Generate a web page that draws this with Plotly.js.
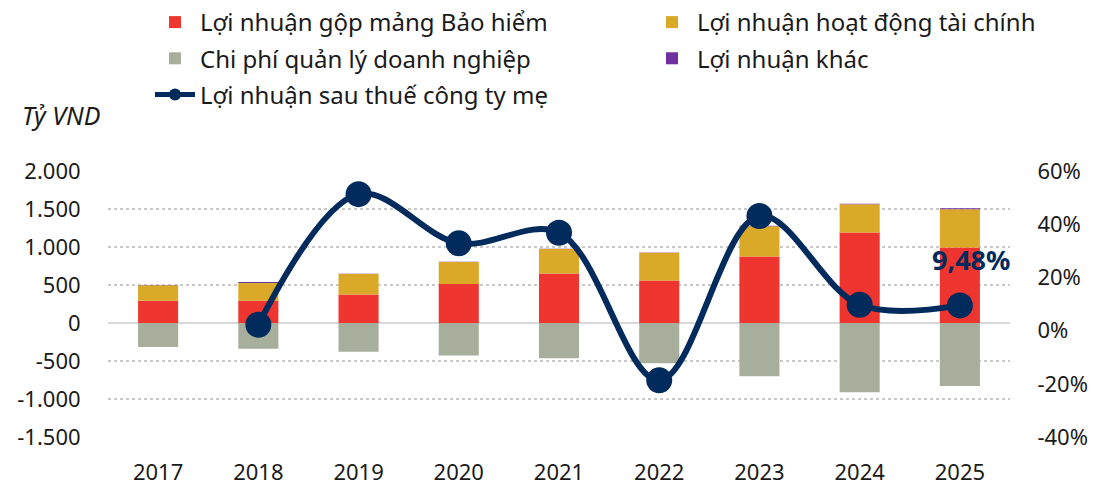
<!DOCTYPE html>
<html>
<head>
<meta charset="utf-8">
<script src="https://cdn.plot.ly/plotly-3.0.1.min.js"></script>
<style>html,body{margin:0;padding:0;background:#fff}#chart{width:1094px;height:486px}</style>
</head>
<body>
<div id="chart"></div>
<script>
const years = ['2017','2018','2019','2020','2021','2022','2023','2024','2025'];
const insuranceGross = [293, 293, 376, 512, 652, 560, 875, 1191, 994];
const financialProfit = [205, 234, 269, 289, 321, 363, 399, 371, 502];
const otherProfit = [2, 12, 3, 5, 3, 5, 5, 6, 15];
const adminExpense = [-315, -338, -377, -426, -465, -531, -702, -912, -828];
const npatGrowth = [null, 2.2, 51.3, 32.8, 36.8, -18.7, 43.1, 9.7, 9.48];
const leftTickVals = [-1500, -1000, -500, 0, 500, 1000, 1500, 2000];
const leftTickText = ['-1.500', '-1.000', '-500', '0', '500', '1.000', '1.500', '2.000'];
const rightTickVals = [-40, -20, 0, 20, 40, 60];
const rightTickText = ['-40%', '-20%', '0%', '20%', '40%', '60%'];
const seriesNames = ['Lợi nhuận gộp mảng Bảo hiểm', 'Lợi nhuận hoạt động tài chính', 'Lợi nhuận khác', 'Chi phí quản lý doanh nghiệp', 'Lợi nhuận sau thuế công ty mẹ'];

const FONT = 'Noto Sans, Open Sans, sans-serif';
const barW = 0.4;

const traces = [
  {type:'bar', x:years, y:insuranceGross, name:seriesNames[0], width:barW,
   marker:{color:'#EE3530', line:{width:0}}, legend:'legend', legendgroup:'a', hoverinfo:'skip'},
  {type:'bar', x:years, y:financialProfit, name:seriesNames[1], width:barW,
   marker:{color:'#DBA928', line:{width:0}}, legend:'legend2', legendgroup:'b', hoverinfo:'skip'},
  {type:'bar', x:years, y:otherProfit, name:seriesNames[2], width:barW,
   marker:{color:'#7030A0', line:{width:0}}, legend:'legend2', legendgroup:'c', hoverinfo:'skip'},
  {type:'bar', x:years, y:adminExpense, name:seriesNames[3], width:barW,
   marker:{color:'#A8AE9C', line:{width:0}}, legend:'legend', legendgroup:'d', hoverinfo:'skip'},
  {type:'scatter', mode:'lines+markers', x:years, y:npatGrowth, yaxis:'y2', name:seriesNames[4],
   line:{color:'#002B5C', width:6, shape:'spline', smoothing:1}, marker:{color:'#002B5C', size:26},
   legend:'legend', legendgroup:'e', connectgaps:false, cliponaxis:false, hoverinfo:'skip'}
];

const lastIdx = npatGrowth.length - 1;
const labelText = npatGrowth[lastIdx].toFixed(2).replace('.', ',') + '%';

const legendCommon = {
  orientation:'v', xref:'container', yref:'container', xanchor:'left', yanchor:'top',
  font:{family:FONT, size:24, color:'#1a1a1a'}, bgcolor:'rgba(0,0,0,0)',
  traceorder:'grouped', tracegroupgap:2, itemsizing:'constant', itemwidth:40
};

const layout = {
  width:1094, height:486,
  margin:{l:108, r:84, t:171, b:49, pad:0, autoexpand:false},
  paper_bgcolor:'#fff', plot_bgcolor:'#fff',
  barmode:'relative',
  separators:',.',
  font:{family:FONT, color:'#1a1a1a'},
  showlegend:true,
  legend:Object.assign({}, legendCommon, {x:150/1094, y:1 + 1/486}),
  legend2:Object.assign({}, legendCommon, {x:647/1094, y:1 + 1/486}),
  xaxis:{type:'category', range:[-0.5, 8.5], showgrid:false, zeroline:false, showline:false,
    ticks:'outside', ticklen:16, tickcolor:'rgba(0,0,0,0)',
    tickfont:{family:FONT, size:22, color:'#1a1a1a'}, fixedrange:true},
  yaxis:{range:[-1500, 2000], tickvals:leftTickVals, ticktext:leftTickText,
    showgrid:true, gridcolor:'#c9c9c9', griddash:'dot', gridwidth:1.5,
    zeroline:true, zerolinecolor:'#d9d9d9', zerolinewidth:2, showline:false,
    ticks:'outside', ticklen:22, tickcolor:'rgba(0,0,0,0)',
    tickfont:{family:FONT, size:22, color:'#1a1a1a'}, fixedrange:true},
  yaxis2:{range:[-40, 60], overlaying:'y', side:'right', tickvals:rightTickVals, ticktext:rightTickText,
    showgrid:false, zeroline:false, showline:false,
    ticks:'outside', ticklen:22, tickcolor:'rgba(0,0,0,0)',
    tickfont:{family:FONT, size:22, color:'#1a1a1a'}, fixedrange:true},
  annotations:[
    {x:lastIdx, y:npatGrowth[lastIdx], xref:'x', yref:'y2', text:'<b>'+labelText+'</b>',
     showarrow:false, xshift:11, yshift:46, font:{family:FONT, size:27, color:'#002B5C'}},
    {x:(20-108)/902, y:(437.3-115)/266.3, xref:'paper', yref:'paper', text:'<i>Tỷ VND</i>', showarrow:false,
     xanchor:'left', yanchor:'middle', font:{family:FONT, size:25, color:'#1a1a1a'}}
  ]
};

Plotly.newPlot('chart', traces, layout, {displayModeBar:false, staticPlot:true});
</script>
</body>
</html>
